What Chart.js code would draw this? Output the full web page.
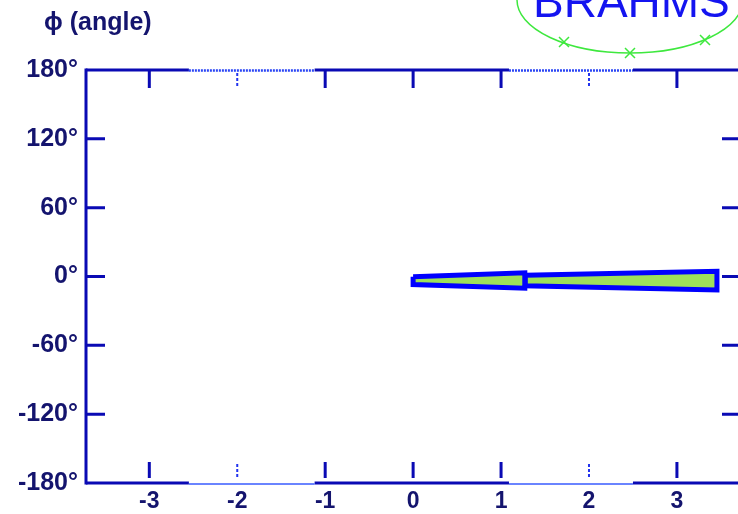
<!DOCTYPE html>
<html>
<head>
<meta charset="utf-8">
<script src="https://cdn.jsdelivr.net/npm/chart.js@4.4.1/dist/chart.umd.min.js"></script>
<style>
  html, body { margin: 0; padding: 0; background: #fff; overflow: hidden; }
  #wrap { width: 738px; height: 514px; overflow: hidden; }
</style>
</head>
<body>
<div id="wrap"><canvas id="accChart" width="745" height="514"></canvas></div>
<script>
// eta (pseudorapidity) vs phi acceptance
const etaTicks = [-3, -2, -1, 0, 1, 2, 3];
const phiTicks = [-180, -120, -60, 0, 60, 120, 180];
const tickEta = [-3, -1, 0, 1, 3];     // solid ticks on top / bottom
const markEta = [-2, 2];               // small dashed marks
const gapEta = [[-2.55, -1.12], [1.09, 2.5]];  // thin parts of the frame

// mid-rapidity spectrometer outline
const mrsEta = [0, 1.27, 1.27, 0, 0];
const mrsPhi = [-0.2, 3.2, -10.2, -7.0, -0.2];
// forward spectrometer outline
const fsEta = [1.275, 3.455, 3.455, 1.275, 1.275];
const fsPhi = [1.1, 4.5, -11.8, -8.1, 1.1];

const axisBlue = '#0a0ab4';
const labelNavy = '#14146e';

function pts(xs, ys) {
    return xs.map((v, i) => ({ x: v, y: ys[i] }));
}

const frame = {
    id: 'frame',
    afterDraw(chart) {
        const ctx = chart.ctx;
        const a = chart.chartArea;
        const x = chart.scales.x, y = chart.scales.y;
        ctx.save();

        // left / right frame
        ctx.strokeStyle = axisBlue;
        ctx.lineWidth = 3;
        ctx.beginPath();
        ctx.moveTo(a.left, a.top - 1.5);
        ctx.lineTo(a.left, a.bottom + 1.5);
        ctx.moveTo(a.right, a.top - 1.5);
        ctx.lineTo(a.right, a.bottom + 1.5);
        ctx.stroke();

        // top / bottom frame with thin gaps
        const gaps = gapEta.map(g => [x.getPixelForValue(g[0]), x.getPixelForValue(g[1])]);
        let start = a.left;
        ctx.beginPath();
        gaps.forEach(g => {
            ctx.moveTo(start, a.top); ctx.lineTo(g[0], a.top);
            ctx.moveTo(start, a.bottom); ctx.lineTo(g[0], a.bottom);
            start = g[1];
        });
        ctx.moveTo(start, a.top); ctx.lineTo(a.right, a.top);
        ctx.moveTo(start, a.bottom); ctx.lineTo(a.right, a.bottom);
        ctx.stroke();

        // thin parts
        ctx.strokeStyle = '#2a45f5';
        ctx.lineWidth = 2.5;
        ctx.setLineDash([2, 1]);
        ctx.beginPath();
        gaps.forEach(g => { ctx.moveTo(g[0], a.top + 0.5); ctx.lineTo(g[1], a.top + 0.5); });
        ctx.stroke();
        ctx.setLineDash([]);
        ctx.lineWidth = 1.5;
        ctx.strokeStyle = '#3a5cff';
        ctx.beginPath();
        gaps.forEach(g => { ctx.moveTo(g[0], a.bottom + 1); ctx.lineTo(g[1], a.bottom + 1); });
        ctx.stroke();

        // ticks
        ctx.strokeStyle = axisBlue;
        ctx.lineWidth = 3;
        ctx.beginPath();
        tickEta.forEach(v => {
            const px = x.getPixelForValue(v);
            ctx.moveTo(px, a.top); ctx.lineTo(px, a.top + 18);
            ctx.moveTo(px, a.bottom - 5); ctx.lineTo(px, a.bottom - 21);
        });
        phiTicks.slice(1, -1).forEach(v => {
            const py = y.getPixelForValue(v);
            ctx.moveTo(a.left, py); ctx.lineTo(a.left + 19, py);
            ctx.moveTo(a.right, py); ctx.lineTo(a.right - 20, py);
        });
        ctx.stroke();

        // dashed marks
        ctx.strokeStyle = '#2233ee';
        ctx.lineWidth = 2;
        ctx.setLineDash([3, 2]);
        ctx.beginPath();
        markEta.forEach(v => {
            const px = x.getPixelForValue(v);
            ctx.moveTo(px, a.top + 3); ctx.lineTo(px, a.top + 18);
            ctx.moveTo(px, a.bottom - 6); ctx.lineTo(px, a.bottom - 21);
        });
        ctx.stroke();
        ctx.setLineDash([]);

        // axis name
        ctx.fillStyle = labelNavy;
        ctx.font = 'bold 25px "Liberation Sans", Arial, sans-serif';
        ctx.textAlign = 'left';
        ctx.textBaseline = 'alphabetic';
        ctx.fillText('\u03d5 (angle)', 44, 30);

        // logo
        ctx.strokeStyle = '#3ee83e';
        ctx.lineWidth = 1.5;
        ctx.beginPath();
        ctx.ellipse(630, 0, 113, 53, 0, 0, Math.PI * 2);
        ctx.stroke();
        [[564, 42], [630, 53], [705, 40]].forEach(p => {
            ctx.beginPath();
            ctx.moveTo(p[0] - 5, p[1] - 5); ctx.lineTo(p[0] + 5, p[1] + 5);
            ctx.moveTo(p[0] - 5, p[1] + 5); ctx.lineTo(p[0] + 5, p[1] - 5);
            ctx.stroke();
        });
        ctx.fillStyle = '#1414f0';
        ctx.font = '46px "Liberation Sans", Arial, sans-serif';
        ctx.fillText('BRAHMS', 533, 17);

        ctx.restore();
    }
};

new Chart(document.getElementById('accChart'), {
    type: 'scatter',
    data: {
        datasets: [
            {
                label: 'MRS',
                data: pts(mrsEta, mrsPhi),
                showLine: true,
                fill: 'shape',
                backgroundColor: '#9ee05a',
                borderColor: '#0000ff',
                borderWidth: 5,
                borderJoinStyle: 'miter',
                pointRadius: 0,
                tension: 0
            },
            {
                label: 'FS',
                data: pts(fsEta, fsPhi),
                showLine: true,
                fill: 'shape',
                backgroundColor: '#9ee05a',
                borderColor: '#0000ff',
                borderWidth: 5,
                borderJoinStyle: 'miter',
                pointRadius: 0,
                tension: 0
            }
        ]
    },
    options: {
        responsive: false,
        animation: false,
        layout: { padding: { top: 70, right: 3, left: 0, bottom: 0 } },
        plugins: {
            legend: { display: false },
            tooltip: { enabled: false }
        },
        scales: {
            x: {
                type: 'linear',
                min: -3.72,
                max: 3.74,
                afterBuildTicks: s => { s.ticks = etaTicks.map(v => ({ value: v })); },
                afterFit: s => { s.height = 31; },
                grid: { display: false, drawTicks: false },
                border: { display: false },
                ticks: {
                    padding: 5,
                    maxRotation: 0,
                    color: labelNavy,
                    font: { family: '"Liberation Sans", Arial, sans-serif', size: 23, weight: 'bold' }
                }
            },
            y: {
                min: -180,
                max: 180,
                afterBuildTicks: s => { s.ticks = phiTicks.map(v => ({ value: v })); },
                afterFit: s => { s.width = 86; },
                grid: { display: false, drawTicks: false },
                border: { display: false },
                ticks: {
                    padding: 8,
                    color: labelNavy,
                    font: { family: '"Liberation Sans", Arial, sans-serif', size: 25, weight: 'bold' },
                    callback: v => v + '\u00b0'
                }
            }
        }
    },
    plugins: [frame]
});
</script>
</body>
</html>
